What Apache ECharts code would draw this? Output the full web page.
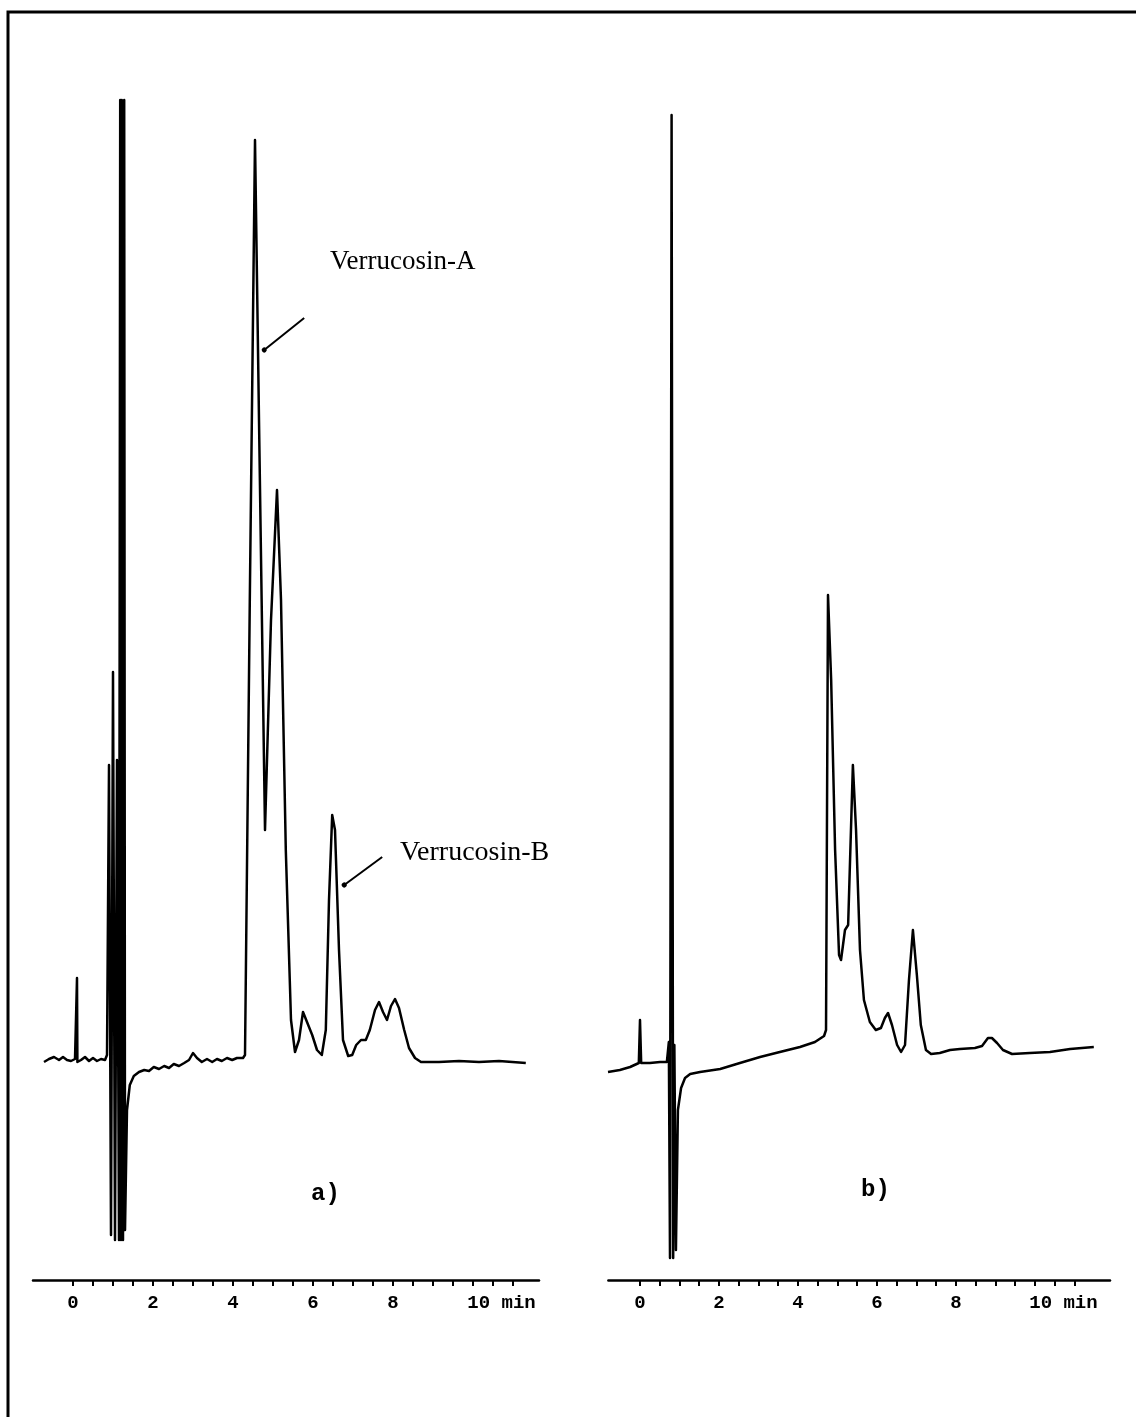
<!DOCTYPE html>
<html>
<head>
<meta charset="utf-8">
<script src="https://cdn.jsdelivr.net/npm/echarts@6/dist/echarts.min.js"></script>
<style>
  html, body { margin: 0; padding: 0; background: #fff; }
  #chart { width: 1136px; height: 1417px; }
</style>
</head>
<body>
<div id="chart"></div>
<script>
// ---- Chromatogram a) : retention time (min) and detector response (arbitrary units)
const timesA = [-0.725,-0.6,-0.475,-0.35,-0.25,-0.15,-0.05,0.05,0.09,0.1,0.11,0.2,0.3,0.4,0.5,0.6,0.7,0.8,0.85,
  0.9,0.95,1.0,1.05,1.1,1.15,1.18,1.2,1.22,1.25,1.28,1.3,1.35,1.42,1.52,1.65,1.78,1.9,2.02,2.15,2.28,2.4,2.52,2.65,2.78,2.9,
  3.0,3.1,3.22,3.35,3.48,3.6,3.72,3.85,3.98,4.1,4.25,4.3,4.42,4.55,4.65,4.8,4.95,5.1,5.2,5.32,5.45,5.55,5.65,5.75,5.85,5.98,
  6.1,6.22,6.32,6.4,6.48,6.55,6.65,6.75,6.88,6.98,7.08,7.2,7.32,7.42,7.55,7.65,7.75,7.85,7.95,8.05,8.15,8.28,8.4,8.55,8.7,
  9.15,9.65,10.15,10.65,11.32];
const signalA = [-2,1,3,0,3,0,-1,1,0,82,-2,0,3,-1,2,-1,1,0,5,
  295,-175,388,-180,300,-180,960,-180,960,-180,960,-170,-50,-25,-16,-12,-10,-11,-7,-9,-6,-8,-4,-6,-3,0,
  7,2,-2,1,-2,1,-1,2,0,2,2,5,460,920,640,230,440,570,460,210,40,8,20,48,38,25,
  10,5,30,160,245,230,110,20,4,5,15,20,20,30,50,58,48,40,54,61,52,30,12,2,-2,
  -2,-1,-2,-1,-3];

// ---- Chromatogram b)
const timesB = [-0.81,-0.51,-0.25,-0.03,0.0,0.03,0.25,0.51,0.68,0.73,0.76,0.8,0.84,0.87,0.91,0.96,1.04,1.14,1.27,1.52,
  2.03,2.53,3.04,3.54,4.05,4.43,4.66,4.71,4.76,4.84,4.94,5.04,5.09,5.19,5.27,5.39,5.47,5.57,5.67,5.82,5.97,6.1,6.2,6.28,
  6.38,6.51,6.61,6.71,6.81,6.91,7.01,7.11,7.24,7.37,7.59,7.85,8.1,8.48,8.66,8.81,8.91,9.04,9.19,9.42,9.87,10.38,10.89,11.49];
const signalB = [-12,-10,-7,-3,40,-3,-3,-2,-2,18,-198,945,-198,15,-190,-50,-28,-18,-14,-12,
  -9,-3,3,8,13,18,24,30,465,380,210,105,100,130,135,295,230,110,60,38,30,32,42,47,
  35,15,8,15,80,130,85,35,10,6,7,10,11,12,14,22,22,17,10,6,7,8,11,13];

// ---- Axis ticks / labels
const tickLabelValues = [0, 2, 4, 6, 8, 10];
const tickLabelTexts = ['0', '2', '4', '6', '8', '     10 min'];
const tickMarks = [];
for (let v = 0; v <= 11; v += 0.5) tickMarks.push(v);

// ---- Annotations
const peakNames = ['Verrucosin-A', 'Verrucosin-B'];
const leaderA = [[4.78, 710], [5.78, 742]];
const leaderB = [[6.78, 175], [7.73, 203]];
const panelNames = ['a)', 'b)'];

const chart = echarts.init(document.getElementById('chart'), null, { renderer: 'canvas' });

function xAxisFor(gridIndex, min, max) {
  return {
    gridIndex, type: 'value', min, max,
    axisLine: { show: true, onZero: false, lineStyle: { color: '#000', width: 2.5 } },
    axisTick: { show: true, customValues: tickMarks, length: 6, inside: false,
      lineStyle: { color: '#000', width: 2 } },
    axisLabel: {
      customValues: tickLabelValues, margin: 14, color: '#000',
      fontFamily: 'Liberation Mono', fontWeight: 'bold', fontSize: 19,
      formatter: v => tickLabelTexts[tickLabelValues.indexOf(v)] ?? String(v)
    },
    splitLine: { show: false }
  };
}
function yAxisFor(gridIndex) {
  return { gridIndex, type: 'value', min: -220, max: 980, show: false, splitLine: { show: false } };
}
const lineStyle = { color: '#000', width: 2.5, join: 'round' };
const leaderStyle = { color: '#000', width: 2, type: 'solid' };

chart.setOption({
  animation: false,
  backgroundColor: '#fff',
  grid: [
    { left: 33, width: 506, top: 80, bottom: 137 },
    { left: 608.4, width: 501.6, top: 80, bottom: 137 }
  ],
  xAxis: [xAxisFor(0, -1, 11.65), xAxisFor(1, -0.8, 11.9)],
  yAxis: [yAxisFor(0), yAxisFor(1)],
  series: [
    {
      type: 'line', xAxisIndex: 0, yAxisIndex: 0, showSymbol: false, smooth: false,
      data: timesA.map((t, i) => [t, signalA[i]]), lineStyle,
      markLine: {
        silent: true, symbol: ['circle', 'none'], symbolSize: 5, label: { show: false },
        lineStyle: leaderStyle,
        data: [
          [{ coord: leaderA[0] }, { coord: leaderA[1] }],
          [{ coord: leaderB[0] }, { coord: leaderB[1] }]
        ]
      }
    },
    {
      type: 'line', xAxisIndex: 1, yAxisIndex: 1, showSymbol: false, smooth: false,
      data: timesB.map((t, i) => [t, signalB[i]]), lineStyle
    }
  ],
  graphic: [
    { type: 'rect', shape: { x: 8, y: 12, width: 1400, height: 1600 },
      style: { fill: 'none', stroke: '#000', lineWidth: 3 }, silent: true },
    { type: 'text', left: 330, top: 248, style: { text: peakNames[0], fill: '#000',
      font: '27px "Liberation Serif"' } },
    { type: 'text', left: 400, top: 839, style: { text: peakNames[1], fill: '#000',
      font: '28px "Liberation Serif"' } },
    { type: 'text', left: 311, top: 1182, style: { text: panelNames[0], fill: '#000',
      font: 'bold 24px "Liberation Mono"' } },
    { type: 'text', left: 861, top: 1178, style: { text: panelNames[1], fill: '#000',
      font: 'bold 24px "Liberation Mono"' } }
  ]
});
</script>
</body>
</html>
